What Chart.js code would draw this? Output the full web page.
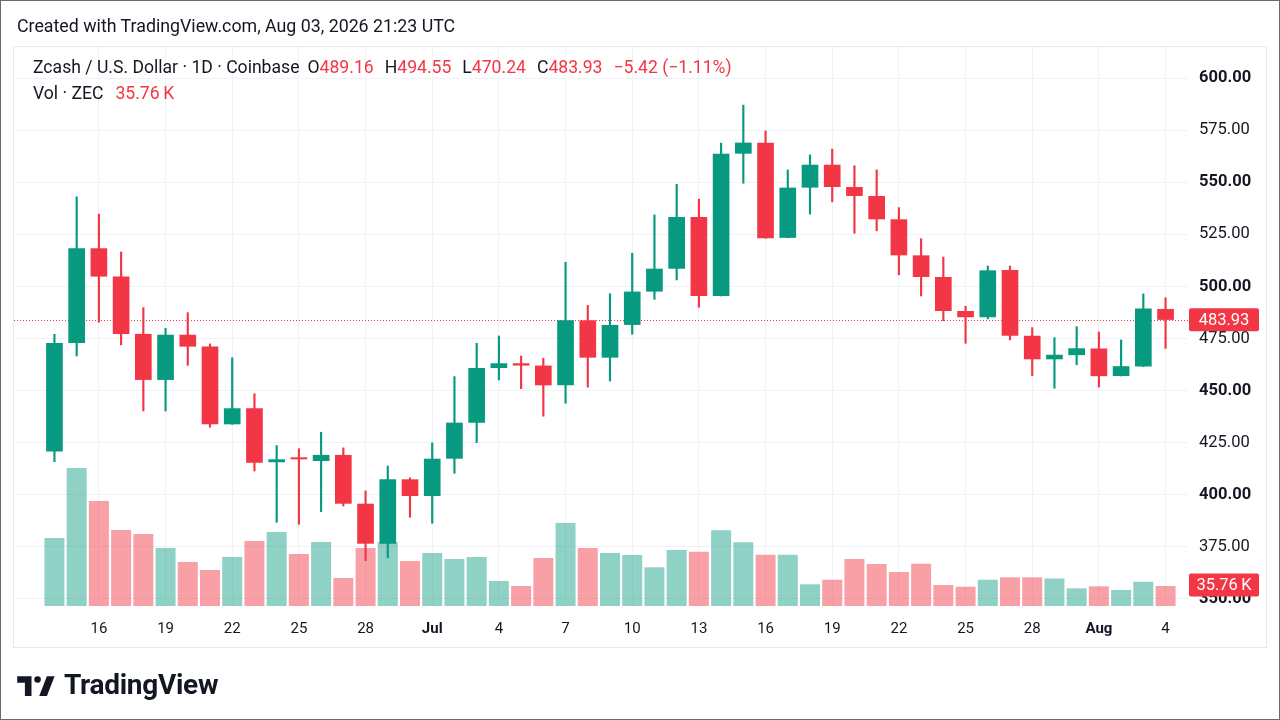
<!DOCTYPE html>
<html>
<head>
<meta charset="utf-8">
<script src="https://cdn.jsdelivr.net/npm/chart.js@4"></script>
<style>
  html, body { margin: 0; padding: 0; background: #fff; }
  body { width: 1280px; height: 720px; position: relative; overflow: hidden; font-family: Roboto, "Liberation Sans", sans-serif; color: #131722; }
  #frame { position: absolute; left: 0; top: 0; width: 1278px; height: 718px; border: 1px solid #6a6a6a; pointer-events: none; }
  #panel { position: absolute; left: 13px; top: 46px; width: 1252px; height: 600px; border: 1px solid #e6e8ee; }
  #chart { position: absolute; left: 0; top: 0; }
  #created { position: absolute; left: 17px; top: 15px; font-size: 17.8px; }
  .legend { position: absolute; left: 33px; font-size: 17.6px; white-space: nowrap; }
  .legend .v { color: #f23645; margin-right: 11px; }
  #l1 { top: 57px; }
  #l2 { top: 83px; }
  #logo { position: absolute; left: 17px; top: 668px; display: flex; align-items: center; font-size: 28px; font-weight: 700; letter-spacing: -0.3px; }
  #logo svg { margin-right: 7px; }
</style>
</head>
<body>
<div id="panel"></div>
<canvas id="chart" width="1280" height="720"></canvas>
<div id="created">Created with TradingView.com, Aug 03, 2026 21:23 UTC</div>
<div class="legend" id="l1"></div>
<div class="legend" id="l2"></div>
<div id="logo">
  <svg width="40" height="22" viewBox="0 0 36 20">
    <path d="M13 20H7V8H0V2h13z" fill="#131722"/>
    <circle cx="18.5" cy="5" r="3" fill="#131722"/>
    <path d="M27 20h-7l7-18h7z" fill="#131722"/>
  </svg>
  <span>TradingView</span>
</div>
<div id="frame"></div>
<script>
// daily candles, Zcash / USD (ZEC), oldest first
const open  = [420.7, 472.8, 518.3, 504.7, 477.2, 455.1, 476.8, 471.1, 433.8, 441.5,
               415.6, 417.6, 416.2, 419.1, 395.7, 376.5, 407.4, 399.4, 417.3, 434.6,
               460.8, 463.1, 462.0, 452.5, 483.7, 465.8, 481.5, 497.5, 508.5, 533.3,
               495.4, 563.7, 569.0, 523.3, 547.4, 558.4, 547.7, 543.4, 532.2, 514.9,
               504.5, 488.2, 485.2, 507.9, 476.3, 465.0, 467.0, 470.2, 457.0, 461.5,
               489.16];
const high  = [477.0, 543.0, 534.7, 516.5, 489.8, 479.9, 487.4, 472.4, 465.8, 448.5,
               423.6, 422.1, 430.0, 422.5, 401.8, 413.8, 408.1, 424.9, 456.7, 472.7,
               476.2, 466.6, 465.5, 511.6, 490.9, 496.5, 515.9, 534.3, 549.0, 541.9,
               568.8, 587.0, 574.6, 555.9, 563.1, 565.9, 557.9, 555.9, 537.8, 522.9,
               514.1, 490.5, 509.8, 509.8, 480.2, 475.4, 480.7, 478.1, 474.3, 496.4,
               494.55];
const low   = [415.9, 466.6, 482.8, 471.9, 440.2, 440.2, 462.1, 432.4, 433.8, 411.4,
               386.8, 385.8, 391.9, 394.6, 368.4, 369.7, 389.2, 386.3, 410.3, 425.0,
               455.1, 450.9, 437.7, 443.9, 451.6, 454.6, 477.0, 493.8, 503.1, 490.0,
               495.4, 549.5, 523.1, 523.3, 534.7, 540.6, 525.5, 526.7, 505.6, 495.4,
               483.5, 472.7, 484.4, 474.3, 457.2, 451.1, 462.4, 451.7, 457.0, 461.5,
               470.24];
const close = [472.8, 518.3, 504.7, 477.2, 455.1, 476.8, 471.1, 433.8, 441.5, 415.4,
               417.0, 417.0, 419.1, 395.7, 376.5, 407.4, 399.4, 417.3, 434.6, 460.8,
               463.1, 462.0, 452.5, 483.7, 465.8, 481.5, 497.5, 508.5, 533.3, 495.4,
               563.7, 569.0, 523.1, 547.4, 558.4, 547.7, 543.4, 532.2, 514.9, 504.5,
               488.2, 485.2, 507.7, 476.3, 465.0, 467.2, 470.3, 456.9, 461.7, 489.35,
               483.93];
// volume in thousands of ZEC
const volume = [121.6, 246.7, 187.7, 135.9, 128.7, 103.7, 78.7, 64.4, 87.6, 116.2,
                132.3, 93.0, 114.4, 50.1, 103.7, 114.4, 80.5, 94.8, 84.0, 87.6,
                44.7, 35.8, 85.8, 148.4, 103.7, 94.8, 91.2, 69.2, 100.1, 97.1,
                135.3, 113.9, 91.7, 91.7, 38.8, 47.0, 84.0, 75.1, 60.8, 75.6,
                37.5, 34.5, 47.0, 51.3, 51.3, 49.2, 31.6, 35.2, 28.6, 43.4,
                35.76];

const tickIdx    = [2, 5, 8, 11, 14, 17, 20, 23, 26, 29, 32, 35, 38, 41, 44, 47, 50];
const tickLabels = ['16', '19', '22', '25', '28', 'Jul', '4', '7', '10', '13', '16', '19', '22', '25', '28', 'Aug', '4'];
const priceTicks = [350, 375, 400, 425, 450, 475, 500, 525, 550, 575, 600];

const UP = '#089981', DOWN = '#f23645';
const UP_VOL = 'rgba(8,153,129,0.45)', DOWN_VOL = 'rgba(242,54,69,0.47)';

const idx = close.map((_, i) => i);
const isUp = idx.map(i => close[i] >= open[i]);
const last = close.length - 1;

// legend text from the data
const fmt = v => v.toFixed(2);
const chg = close[last] - close[last - 1];
const pct = chg / close[last - 1] * 100;
const signed = v => (v < 0 ? '\u2212' : '+') + Math.abs(v).toFixed(2);
document.getElementById('l1').innerHTML =
  '<span style="margin-right:8px">Zcash / U.S. Dollar · 1D · Coinbase</span>' +
  'O<span class="v">' + fmt(open[last]) + '</span>' +
  'H<span class="v">' + fmt(high[last]) + '</span>' +
  'L<span class="v">' + fmt(low[last]) + '</span>' +
  'C<span class="v">' + fmt(close[last]) + '</span>' +
  '<span class="v">' + signed(chg) + ' (' + signed(pct) + '%)</span>';
document.getElementById('l2').innerHTML =
  '<span style="margin-right:12px">Vol · ZEC</span><span class="v">' + volume[last].toFixed(2) + '\u2009K</span>';

// dotted last-price line and axis labels
const lastValue = {
  id: 'lastValue',
  beforeDatasetsDraw(chart) {
    const { ctx, chartArea } = chart;
    const y = chart.scales.y.getPixelForValue(close[last]);
    ctx.save();
    ctx.strokeStyle = DOWN;
    ctx.lineWidth = 1;
    ctx.setLineDash([1, 2]);
    ctx.beginPath();
    ctx.moveTo(chartArea.left, Math.round(y) + 0.5);
    ctx.lineTo(chartArea.right, Math.round(y) + 0.5);
    ctx.stroke();
    ctx.restore();
  },
  afterDraw(chart) {
    const { ctx, chartArea } = chart;
    const tag = (y, text) => {
      const x = chartArea.right + 1, w = 70, h = 23;
      ctx.fillStyle = isUp[last] ? UP : DOWN;
      ctx.beginPath();
      ctx.roundRect(x, y - h / 2, w, h, 2);
      ctx.fill();
      ctx.fillStyle = '#fff';
      ctx.font = '16.5px Roboto';
      ctx.textAlign = 'center';
      ctx.textBaseline = 'middle';
      ctx.fillText(text, x + w / 2, y + 1);
    };
    ctx.save();
    tag(chart.scales.y.getPixelForValue(close[last]), fmt(close[last]));
    tag(chart.scales.vol.getPixelForValue(volume[last]) - 1, volume[last].toFixed(2) + '\u2009K');
    ctx.restore();
  }
};

Chart.defaults.font.family = 'Roboto';
Chart.defaults.color = '#131722';

new Chart(document.getElementById('chart'), {
  type: 'bar',
  data: {
    datasets: [
      {
        label: 'Bodies',
        data: idx.map(i => ({ x: i, y: [open[i], close[i]] })),
        backgroundColor: idx.map(i => isUp[i] ? UP : DOWN),
        categoryPercentage: 1,
        barPercentage: 0.75,
        minBarLength: 2,
        yAxisID: 'y',
        order: 1
      },
      {
        label: 'Wicks',
        data: idx.map(i => ({ x: i, y: [low[i], high[i]] })),
        backgroundColor: idx.map(i => isUp[i] ? UP : DOWN),
        barThickness: 1.5,
        yAxisID: 'y',
        order: 2
      },
      {
        label: 'Volume',
        data: idx.map(i => ({ x: i, y: volume[i] })),
        backgroundColor: idx.map(i => isUp[i] ? UP_VOL : DOWN_VOL),
        categoryPercentage: 1,
        barPercentage: 0.9,
        yAxisID: 'vol',
        order: 3
      }
    ]
  },
  options: {
    responsive: false,
    animation: false,
    datasets: { bar: { grouped: false } },
    layout: { padding: { left: 14, top: 47, right: 14, bottom: 73 } },
    plugins: { legend: { display: false }, tooltip: { enabled: false } },
    scales: {
      x: {
        type: 'linear',
        offset: false,
        min: -1.82,
        max: 51.01,
        afterBuildTicks: s => { s.ticks = tickIdx.map(v => ({ value: v })); },
        afterFit: s => { s.height = 41; },
        ticks: {
          autoSkip: false,
          maxRotation: 0,
          padding: 14,
          font: c => ({ size: 15, weight: ['Jul', 'Aug'].includes(tickLabels[c.index]) ? 'bold' : 'normal' }),
          callback: (v, i) => tickLabels[i]
        },
        grid: { color: '#f0f2f6', drawTicks: false, offset: false },
        border: { display: false }
      },
      y: {
        position: 'right',
        min: 346.6,
        max: 614.9,
        afterBuildTicks: s => { s.ticks = priceTicks.map(v => ({ value: v })); },
        afterFit: s => { s.width = 78; },
        ticks: {
          padding: 11,
          font: c => ({ size: 16.5, weight: c.tick && c.tick.value % 50 === 0 ? 'bold' : 'normal' }),
          callback: v => v.toFixed(2)
        },
        grid: { color: '#f0f2f6', drawTicks: false },
        border: { display: false }
      },
      vol: {
        display: false,
        min: 0,
        max: 1000
      }
    }
  },
  plugins: [lastValue]
});
</script>
</body>
</html>
